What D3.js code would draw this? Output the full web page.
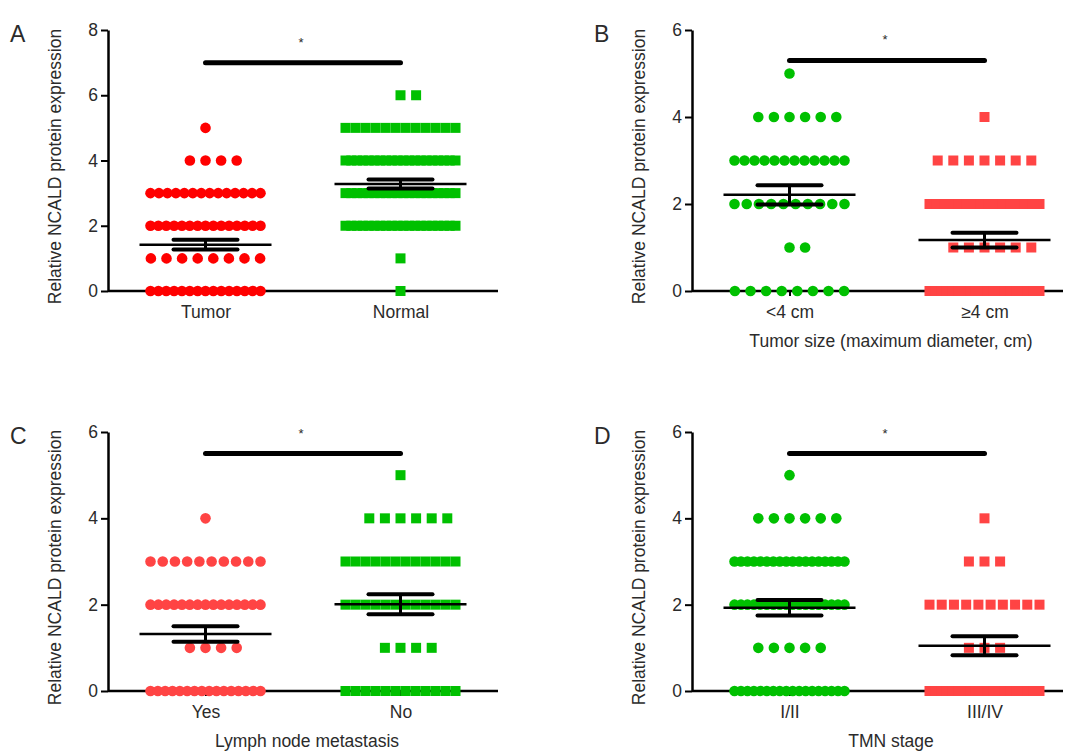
<!DOCTYPE html>
<html>
<head>
<meta charset="utf-8">
<script src="https://cdn.jsdelivr.net/npm/d3@7"></script>
<style>
  body { margin: 0; background: #fff; }
  text { font-family: "Liberation Sans", Arial, Helvetica, sans-serif; fill: #2b2b2b; }
</style>
</head>
<body>
<svg id="chart" width="1071" height="752"></svg>
<script>
// number of samples at each expression level (index = level 0..6)
var levels = [0, 1, 2, 3, 4, 5, 6];
var tumorCounts   = [15, 8, 15, 14, 4, 1, 0];
var normalCounts  = [1, 1, 20, 20, 20, 12, 2];
var smallCounts   = [8, 2, 10, 12, 6, 1, 0];
var largeCounts   = [20, 6, 16, 7, 1, 0, 0];
var lnmYesCounts  = [16, 4, 15, 10, 1, 0, 0];
var lnmNoCounts   = [12, 4, 12, 12, 6, 1, 0];
var stage12Counts = [18, 5, 18, 18, 6, 1, 0];
var stage34Counts = [20, 3, 10, 3, 1, 0, 0];

// mean +/- SEM as drawn
var meansA = [1.42, 3.28], semsA = [0.15, 0.14];
var meansB = [2.21, 1.17], semsB = [0.22, 0.17];
var meansC = [1.32, 2.01], semsC = [0.18, 0.23];
var meansD = [1.93, 1.05], semsD = [0.18, 0.22];

var catsA = ["Tumor", "Normal"];
var catsB = ["<4 cm", "\u22654 cm"];
var catsC = ["Yes", "No"];
var catsD = ["I/II", "III/IV"];

var yMaxes = [8, 6, 6, 6];
var yTicks = [[0, 2, 4, 6, 8], [0, 2, 4, 6], [0, 2, 4, 6], [0, 2, 4, 6]];
var sigLevels = [7, 5.3, 5.5, 5.5];
var xTitles = ["", "Tumor size (maximum diameter, cm)", "Lymph node metastasis", "TMN stage"];

var RED = "#ff0000", RED2 = "#ff4444", GREEN = "#00c000";

var panels = [
  {label: "A", left: 108, top: 30, bottom: 291, axisW: 390, cats: catsA, max: yMaxes[0], ticks: yTicks[0],
   counts: [tumorCounts, normalCounts], means: meansA, sems: semsA, sig: sigLevels[0], title: xTitles[0],
   shapes: ["circle", "square"], colors: [RED, GREEN]},
  {label: "B", left: 692, top: 30, bottom: 291, axisW: 371, cats: catsB, max: yMaxes[1], ticks: yTicks[1],
   counts: [smallCounts, largeCounts], means: meansB, sems: semsB, sig: sigLevels[1], title: xTitles[1],
   shapes: ["circle", "square"], colors: [GREEN, RED2]},
  {label: "C", left: 108, top: 432, bottom: 691, axisW: 390, cats: catsC, max: yMaxes[2], ticks: yTicks[2],
   counts: [lnmYesCounts, lnmNoCounts], means: meansC, sems: semsC, sig: sigLevels[2], title: xTitles[2],
   shapes: ["circle", "square"], colors: [RED2, GREEN]},
  {label: "D", left: 692, top: 432, bottom: 691, axisW: 371, cats: catsD, max: yMaxes[3], ticks: yTicks[3],
   counts: [stage12Counts, stage34Counts], means: meansD, sems: semsD, sig: sigLevels[3], title: xTitles[3],
   shapes: ["circle", "square"], colors: [GREEN, RED2]}
];

// horizontal spread of points that share one level (GraphPad-like)
function rowOffsets(n) {
  var s = 15.6, maxHalf = 55, out = [], i;
  if (n <= 7) {
    for (i = 0; i < n; i++) {
      var k = i === 0 ? 0 : (i % 2 ? (i + 1) / 2 : -i / 2);
      out.push(k * s);
    }
  } else {
    var step = Math.min(s, 2 * maxHalf / (n - 1));
    for (i = 0; i < n; i++) out.push((i - (n - 1) / 2) * step);
  }
  return out;
}

var svg = d3.select("#chart");

panels.forEach(function(p) {
  var g = svg.append("g").attr("transform", "translate(" + p.left + ",0)");

  var x = d3.scalePoint().domain(p.cats).range([0, 390]).padding(0.5);
  var y = d3.scaleLinear().domain([0, p.max]).range([p.bottom, p.top]);

  // y axis
  var yAxis = g.append("g")
    .call(d3.axisLeft(y).tickValues(p.ticks).tickFormat(d3.format("d"))
      .tickSize(7).tickPadding(3).tickSizeOuter(0));
  yAxis.select(".domain").attr("stroke-width", 2.5).attr("stroke", "#000");
  yAxis.selectAll(".tick line").attr("stroke-width", 2).attr("stroke", "#000");
  yAxis.selectAll(".tick text").style("font-size", "17.5px").attr("fill", "#2b2b2b");

  // x axis
  var xAxis = g.append("g")
    .attr("transform", "translate(0," + p.bottom + ")")
    .call(d3.axisBottom(x).tickSize(5).tickPadding(10).tickSizeOuter(0));
  xAxis.select(".domain").remove();
  xAxis.append("line").attr("x1", 0).attr("x2", p.axisW).attr("stroke", "#000").attr("stroke-width", 2.5);
  xAxis.selectAll(".tick line").attr("stroke-width", 2).attr("stroke", "#000");
  xAxis.selectAll(".tick text").style("font-size", "17.5px").attr("fill", "#2b2b2b");

  // y title
  g.append("text")
    .attr("transform", "translate(-47," + ((p.top + p.bottom) / 2 + 6) + ") rotate(-90)")
    .attr("text-anchor", "middle")
    .style("font-size", "17.5px")
    .text("Relative NCALD protein expression");

  // x title
  if (p.title) {
    g.append("text")
      .attr("x", (x(p.cats[0]) + x(p.cats[1])) / 2 + 4)
      .attr("y", p.bottom + 56)
      .attr("text-anchor", "middle")
      .style("font-size", "17.5px")
      .text(p.title);
  }

  // panel letter
  svg.append("text")
    .attr("x", p.left - 98)
    .attr("y", p.top + 12)
    .style("font-size", "23px")
    .text(p.label);

  // points
  p.cats.forEach(function(c, ci) {
    var pts = [];
    p.counts[ci].forEach(function(n, li) {
      rowOffsets(n).forEach(function(o) { pts.push({v: levels[li], dx: o}); });
    });
    var cx = x(c);
    if (p.shapes[ci] === "circle") {
      g.selectAll(null).data(pts).enter().append("circle")
        .attr("cx", function(d) { return cx + d.dx; })
        .attr("cy", function(d) { return y(d.v); })
        .attr("r", 5.3)
        .attr("fill", p.colors[ci]);
    } else {
      g.selectAll(null).data(pts).enter().append("rect")
        .attr("x", function(d) { return cx + d.dx - 5; })
        .attr("y", function(d) { return y(d.v) - 5; })
        .attr("width", 10).attr("height", 10)
        .attr("fill", p.colors[ci]);
    }

    // mean and SEM
    var m = p.means[ci], s = p.sems[ci];
    g.append("line").attr("x1", cx - 66).attr("x2", cx + 66)
      .attr("y1", y(m)).attr("y2", y(m))
      .attr("stroke", "#000").attr("stroke-width", 2.5);
    g.append("line").attr("x1", cx).attr("x2", cx)
      .attr("y1", y(m - s)).attr("y2", y(m + s))
      .attr("stroke", "#000").attr("stroke-width", 3);
    [m - s, m + s].forEach(function(v) {
      g.append("line").attr("x1", cx - 32).attr("x2", cx + 32)
        .attr("y1", y(v)).attr("y2", y(v))
        .attr("stroke", "#000").attr("stroke-width", 4).attr("stroke-linecap", "round");
    });
  });

  // significance bar
  var x0 = x(p.cats[0]), x1 = x(p.cats[1]);
  g.append("line").attr("x1", x0).attr("x2", x1)
    .attr("y1", y(p.sig)).attr("y2", y(p.sig))
    .attr("stroke", "#000").attr("stroke-width", 5).attr("stroke-linecap", "round");
  g.append("text")
    .attr("x", (x0 + x1) / 2 - 2)
    .attr("y", y(p.sig) - 16)
    .attr("text-anchor", "middle")
    .style("font-size", "13px")
    .text("*");
});
</script>
</body>
</html>
